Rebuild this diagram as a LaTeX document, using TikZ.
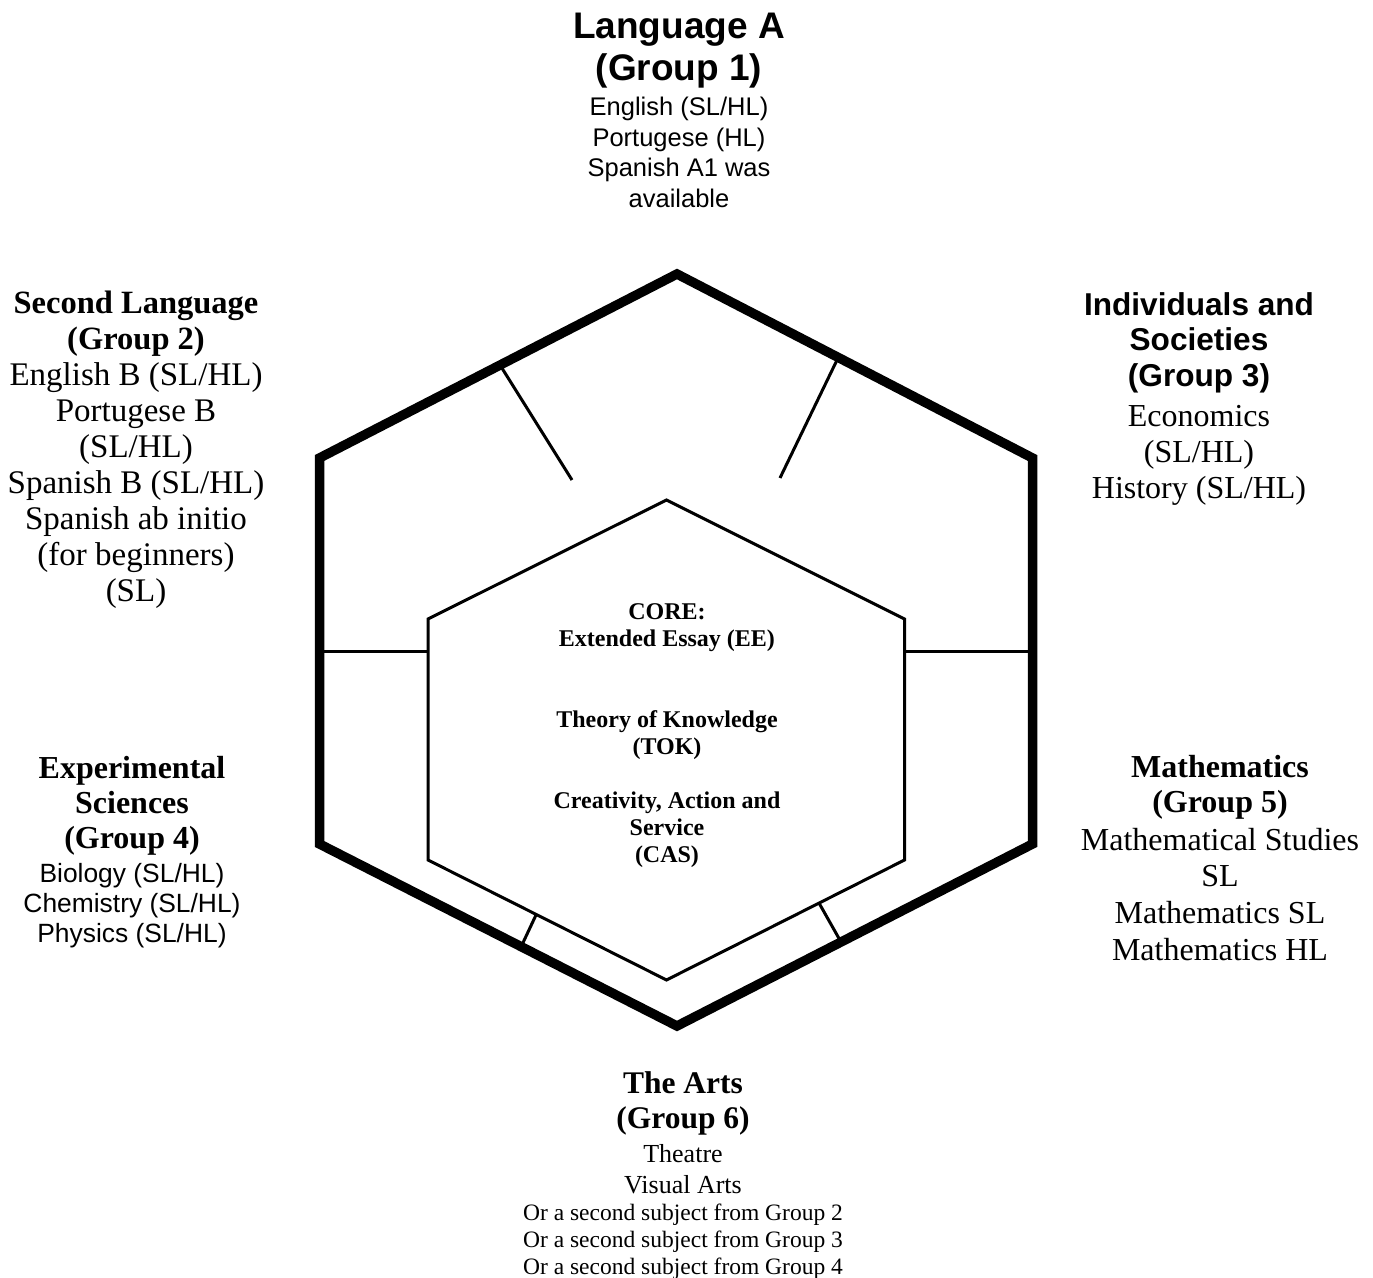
\documentclass[tikz,border=0pt]{standalone}
\usepackage{fontspec}
\setmainfont{Liberation Serif}
\setsansfont{Liberation Sans}
\usetikzlibrary{positioning}

\begin{document}
\begin{tikzpicture}[x=0.5pt,y=-0.5pt,
  every node/.style={align=center,inner sep=0pt,anchor=north},
  rim/.style={line width=4.75pt,line join=miter},
  corerim/.style={line width=1.5pt,line join=miter},
  divider/.style={line width=1.5pt}]
  \useasboundingbox (0,0) rectangle (1373,1278);

  % outer hexagon
  \coordinate (oT)  at (677,274);
  \coordinate (oUR) at (1032.5,458);
  \coordinate (oLR) at (1032.5,844);
  \coordinate (oB)  at (677,1026);
  \coordinate (oLL) at (319.5,844);
  \coordinate (oUL) at (319.5,458);
  % inner hexagon
  \coordinate (iT)  at (666.5,500);
  \coordinate (iUR) at (904.5,619);
  \coordinate (iLR) at (904.5,860);
  \coordinate (iB)  at (666.5,980);
  \coordinate (iLL) at (428,860);
  \coordinate (iUL) at (428,619);
  % divider ends
  \coordinate (dA1) at (500,365);   \coordinate (dA2) at (572,480);
  \coordinate (dB1) at (838,358);   \coordinate (dB2) at (780,478);
  \coordinate (dC1) at (319.5,652); \coordinate (dC2) at (428,652);
  \coordinate (dD1) at (904.5,652); \coordinate (dD2) at (1032.5,652);
  \coordinate (dE1) at (536,915);   \coordinate (dE2) at (521,947);
  \coordinate (dF1) at (819,903);   \coordinate (dF2) at (841,942);

  \draw[divider] (dA1) -- (dA2);
  \draw[divider] (dB1) -- (dB2);
  \draw[divider] (dC1) -- (dC2);
  \draw[divider] (dD1) -- (dD2);
  \draw[divider] (dE1) -- (dE2);
  \draw[divider] (dF1) -- (dF2);
  \draw[corerim] (iT) -- (iUR) -- (iLR) -- (iB) -- (iLL) -- (iUL) -- cycle;
  \draw[rim] (oT) -- (oUR) -- (oLR) -- (oB) -- (oLL) -- (oUL) -- cycle;

  % core
  \node (core) at (667,600) [font=\fontsize{12}{13.5}\rmfamily\bfseries]
    {\strut CORE:\\Extended Essay (EE)\\[27pt]Theory of Knowledge\\(TOK)\\[13.5pt]Creativity, Action and\\Service\\(CAS)\strut};

  % group 1
  \node (grpOne) at (679,8.6) [font=\fontsize{18.5}{21}\sffamily\bfseries]
    {\strut Language A\\(Group 1)\strut};
  \node (grpOneList) [below=0.3pt of grpOne,font=\fontsize{12.75}{15.25}\sffamily]
    {\strut English (SL/HL)\\Portugese (HL)\\Spanish A1 was\\available\strut};

  % group 2
  \node (grpTwo) at (136,288) [font=\fontsize{16.25}{18}\rmfamily\bfseries]
    {\strut Second Language\\(Group 2)\strut};
  \node (grpTwoList) [below=-0.5pt of grpTwo,font=\fontsize{16.5}{18}\rmfamily]
    {\strut English B (SL/HL)\\Portugese B\\(SL/HL)\\Spanish B (SL/HL)\\Spanish ab initio\\(for beginners)\\(SL)\strut};

  % group 3
  \node (grpThree) at (1199,290) [font=\fontsize{15.8}{17.75}\sffamily\bfseries]
    {\strut Individuals and\\Societies\\(Group 3)\strut};
  \node (grpThreeList) [below=1.6pt of grpThree,font=\fontsize{16}{18}\rmfamily]
    {\strut Economics\\(SL/HL)\\History (SL/HL)\strut};

  % group 4
  \node (grpFour) at (132,754) [font=\fontsize{16}{17.5}\rmfamily\bfseries]
    {\strut Experimental\\Sciences\\(Group 4)\strut};
  \node (grpFourList) [below=0.75pt of grpFour,font=\fontsize{13.2}{15}\sffamily]
    {\strut Biology (SL/HL)\\Chemistry (SL/HL)\\Physics (SL/HL)\strut};

  % group 5
  \node (grpFive) at (1220,753) [font=\fontsize{16}{17.5}\rmfamily\bfseries]
    {\strut Mathematics\\(Group 5)\strut};
  \node (grpFiveList) [below=0pt of grpFive,font=\fontsize{16}{18.45}\rmfamily]
    {\strut Mathematical Studies\\SL\\Mathematics SL\\Mathematics HL\strut};

  % group 6
  \node (grpSix) at (683,1069) [font=\fontsize{15.75}{17.5}\rmfamily\bfseries]
    {\strut The Arts\\(Group 6)\strut};
  \node (grpSixList) [below=0.25pt of grpSix,font=\fontsize{13}{15.5}\rmfamily]
    {\strut Theatre\\Visual Arts\strut};
  \node (grpSixMore) [below=-0.9pt of grpSixList,font=\fontsize{11.75}{13.5}\rmfamily]
    {\strut Or a second subject from Group 2\\Or a second subject from Group 3\\Or a second subject from Group 4\strut};
\end{tikzpicture}
\end{document}
